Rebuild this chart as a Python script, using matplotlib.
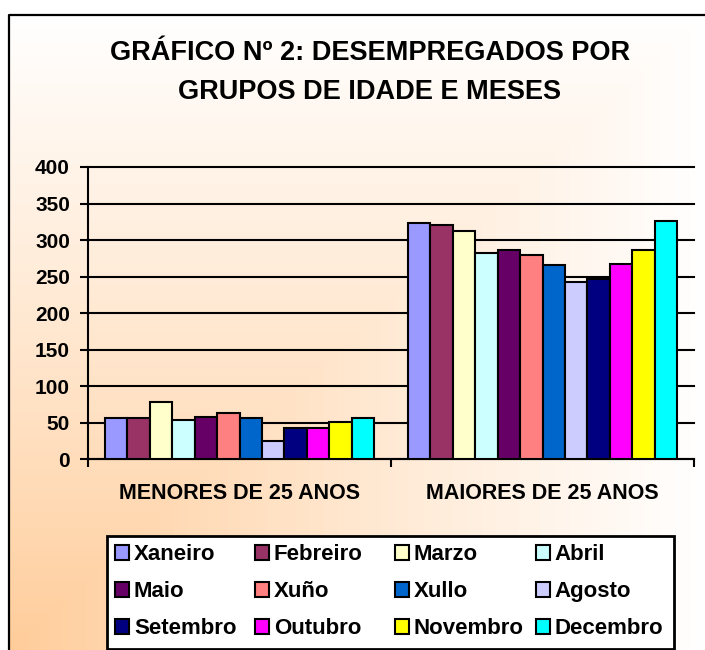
import numpy as np
import matplotlib
matplotlib.use('Agg')
import matplotlib.pyplot as plt
from matplotlib.patches import Patch, Rectangle

plt.rcParams['font.family'] = ['Liberation Sans', 'DejaVu Sans']
plt.rcParams['font.weight'] = 'bold'

title_lines = ['GRÁFICO Nº 2: DESEMPREGADOS POR', 'GRUPOS DE IDADE E MESES']
categories = ['MENORES DE 25 ANOS', 'MAIORES DE 25 ANOS']
months = ['Xaneiro', 'Febreiro', 'Marzo', 'Abril', 'Maio', 'Xuño',
          'Xullo', 'Agosto', 'Setembro', 'Outubro', 'Novembro', 'Decembro']
menores = [57, 56, 78, 54, 58, 64, 56, 25, 43, 43, 51, 56]
maiores = [324, 321, 313, 282, 287, 280, 266, 242, 247, 267, 286, 326]
colors = ['#9999FF', '#993366', '#FFFFCC', '#CCFFFF', '#660066', '#FF8080',
          '#0066CC', '#CCCCFF', '#000080', '#FF00FF', '#FFFF00', '#00FFFF']
yticks = [0, 50, 100, 150, 200, 250, 300, 350, 400]

W, H = 705, 650
fig = plt.figure(figsize=(W / 100, H / 100), dpi=100)

# background gradient (chart area)
bg = fig.add_axes([0, 0, 1, 1], zorder=-10)
xx, yy = np.meshgrid(np.arange(W) + 0.5, np.arange(H) + 0.5)
u = (xx - 9) / (W - 9)
v = (H - yy) / (H - 15)
t = np.clip(np.maximum(u, v), 0, 1) ** 0.9
orange = np.array([255, 204, 153]) / 255.0
img = orange[None, None, :] * (1 - t[..., None]) + t[..., None]
img[(xx < 9) | (yy < 15)] = 1.0
bg.imshow(img, extent=[0, W, H, 0], aspect='auto', interpolation='bilinear')
bg.plot([9, 9, W + 5], [H + 5, 15, 15], color='black', lw=1.6, solid_capstyle='projecting')
bg.set_xlim(0, W)
bg.set_ylim(H, 0)
bg.axis('off')

# title
fig.text(370 / W, 1 - 59.5 / H, title_lines[0], ha='center', va='baseline',
         fontsize=19.5, fontweight='bold')
fig.text(370 / W, 1 - 99 / H, title_lines[1], ha='center', va='baseline',
         fontsize=19.5, fontweight='bold')

ax = fig.add_axes([88 / W, 1 - 459.3 / H, (694 - 88) / W, (459.3 - 167) / H])
ax.patch.set_alpha(0)

n = len(months)
w = 0.891 / n
x = np.arange(len(categories))
for i in range(n):
    ax.bar(x + (i - (n - 1) / 2) * w, [menores[i], maiores[i]], width=w,
           color=colors[i], edgecolor='black', linewidth=1.5, label=months[i], zorder=3)

ax.set_ylim(0, 400)
ax.set_xlim(-0.5, 1.5)
ax.set_yticks(yticks)
ax.set_yticklabels([str(y) for y in yticks], fontsize=15, fontweight='bold')
ax.yaxis.grid(True, color='black', linewidth=1.5)
for gl in ax.yaxis.get_gridlines():
    gl.set_clip_on(False)
ax.set_axisbelow(True)
ax.tick_params(axis='y', direction='out', length=6, width=1.5, pad=7, colors='black')

ax.set_xticks([-0.5, 0.5, 1.5])
ax.set_xticklabels([])
ax.tick_params(axis='x', which='major', direction='out', length=5.5, width=1.5)
ax.set_xticks(x, minor=True)
ax.set_xticklabels(categories, minor=True, fontsize=15.5, fontweight='bold')
ax.tick_params(axis='x', which='minor', length=0, pad=17)

for s in ['top', 'right']:
    ax.spines[s].set_visible(False)
for s in ['left', 'bottom']:
    ax.spines[s].set_linewidth(1.5)
    ax.spines[s].set_color('black')

# legend: frame + four equal-width columns (Excel style)
frame = Rectangle((107 / W, 1 - 649 / H), (674 - 107) / W, (649 - 536) / H,
                  transform=fig.transFigure, facecolor='white', edgecolor='black',
                  linewidth=2, zorder=2)
fig.add_artist(frame)
col_x = [115, 255, 395, 536]
ncols = 4
for c in range(ncols):
    idx = [c, c + ncols, c + 2 * ncols]
    hs = [Patch(facecolor=colors[i], edgecolor='black', linewidth=1.5) for i in idx]
    ls = [months[i] for i in idx]
    lg = fig.legend(hs, ls, loc='upper left',
                    bbox_to_anchor=(col_x[c] / W, 1 - 544 / H),
                    fontsize=16, frameon=False,
                    handlelength=0.65, handleheight=0.65, handletextpad=0.2,
                    labelspacing=0.73, borderaxespad=0, borderpad=0)
    lg.set_zorder(3)
    for txt in lg.get_texts():
        txt.set_fontweight('bold')

fig.savefig('out.png', dpi=100)
